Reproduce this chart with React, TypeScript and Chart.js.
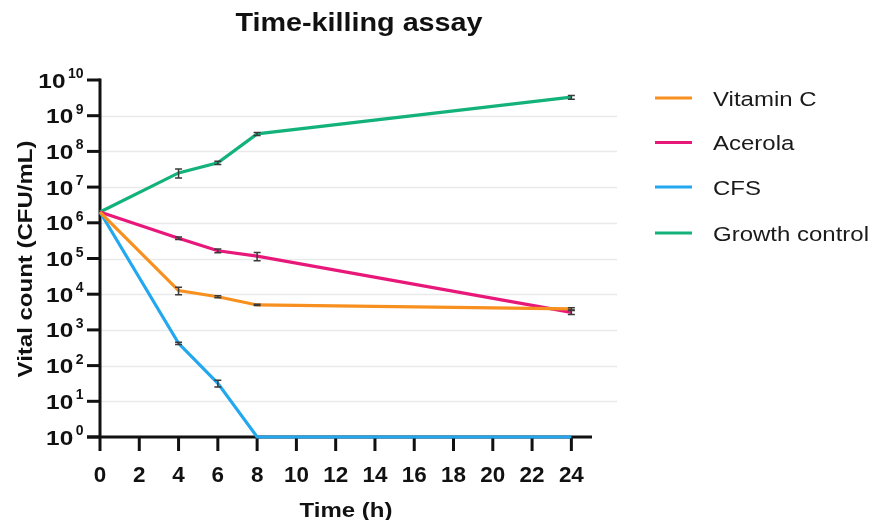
import React, { useEffect, useRef } from "react";
import { Chart, registerables } from "chart.js";

Chart.register(...registerables);

// ---------------- data ----------------
const TIMES = [0, 4, 6, 8, 24];
const SERIES_NAMES = ["Vitamin C", "Acerola", "CFS", "Growth control"];
const SERIES_COLORS = ["#F7901E", "#E8187A", "#23A8EF", "#13B27B"];

const VITAMIN_C = [2e6, 1.26e4, 8.5e3, 5e3, 3.9e3];
const VITAMIN_C_ERR = [0, 3e3, 5e2, 2e2, 3e2];
const ACEROLA = [2e6, 3.7e5, 1.65e5, 1.17e5, 3.1e3];
const ACEROLA_ERR = [0, 3e4, 2e4, 3e4, 4e2];
const CFS = [2e6, 420, 32, 1, 1];
const CFS_ERR = [0, 30, 7, 0, 0];
const GROWTH = [2e6, 2.5e7, 4.8e7, 3.1e8, 3.3e9];
const GROWTH_ERR = [0, 7e6, 5e6, 3e7, 4e8];

const X_TICKS = [0, 2, 4, 6, 8, 10, 12, 14, 16, 18, 20, 22, 24];
const Y_TICKS = [1, 10, 100, 1e3, 1e4, 1e5, 1e6, 1e7, 1e8, 1e9, 1e10];
const Y_EXPONENTS = ["0", "1", "2", "3", "4", "5", "6", "7", "8", "9", "10"];

const TITLE = "Time-killing assay";
const X_TITLE = "Time (h)";
const Y_TITLE = "Vital count (CFU/mL)";

const FONT = '"Liberation Sans", Arial, Helvetica, sans-serif';

function drawText(
  ctx: CanvasRenderingContext2D,
  s: string,
  x: number,
  y: number,
  font: string,
  align: CanvasTextAlign,
  baseline: CanvasTextBaseline,
  sx: number,
  color: string,
  rotate = 0
) {
  ctx.save();
  ctx.translate(x, y);
  if (rotate) ctx.rotate(rotate);
  ctx.scale(sx, 1);
  ctx.font = font;
  ctx.textAlign = align;
  ctx.textBaseline = baseline;
  ctx.fillStyle = color;
  ctx.fillText(s, 0, 0);
  ctx.restore();
}

const ERRORS = [VITAMIN_C_ERR, ACEROLA_ERR, CFS_ERR, GROWTH_ERR];

const decorPlugin = {
  id: "decor",
  beforeDatasetsDraw(chart: any) {
    const ctx: CanvasRenderingContext2D = chart.ctx;
    const xs = chart.scales.x;
    const ys = chart.scales.y;
    const ca = chart.chartArea;
    ctx.save();
    // gridlines
    ctx.strokeStyle = "#e9e9e9";
    ctx.lineWidth = 1.5;
    Y_TICKS.forEach((v, i) => {
      if (i === 0 || i === Y_TICKS.length - 1) return;
      const y = Math.round(ys.getPixelForValue(v)) + 0.5;
      ctx.beginPath();
      ctx.moveTo(ca.left, y);
      ctx.lineTo(ca.right + 26, y);
      ctx.stroke();
    });
    // axes
    ctx.strokeStyle = "#111";
    ctx.lineWidth = 3;
    ctx.lineCap = "butt";
    const x0 = xs.getPixelForValue(0);
    const yb = ys.getPixelForValue(1);
    const yt = ys.getPixelForValue(1e10);
    ctx.beginPath();
    ctx.moveTo(x0, yt - 1.5);
    ctx.lineTo(x0, yb);
    ctx.stroke();
    ctx.beginPath();
    ctx.moveTo(x0 - 13, yb);
    ctx.lineTo(ca.right + 1, yb);
    ctx.stroke();
    // x ticks
    X_TICKS.forEach((v) => {
      const x = xs.getPixelForValue(v);
      ctx.beginPath();
      ctx.moveTo(x, yb);
      ctx.lineTo(x, yb + 14);
      ctx.stroke();
      drawText(ctx, String(v), x, yb + 45, "bold 22px " + FONT, "center", "alphabetic", 1.02, "#111");
    });
    // y ticks
    Y_TICKS.forEach((v, i) => {
      const y = ys.getPixelForValue(v);
      ctx.beginPath();
      ctx.moveTo(x0 - 13, y);
      ctx.lineTo(x0, y);
      ctx.stroke();
      const expRight = x0 - 16.5;
      ctx.font = "bold 14px " + FONT;
      const ew = ctx.measureText(Y_EXPONENTS[i]).width;
      drawText(ctx, Y_EXPONENTS[i], expRight, y - 2, "bold 14px " + FONT, "right", "alphabetic", 1, "#111");
      drawText(ctx, "10", expRight - ew - 2.5, y + 7.5, "bold 21px " + FONT, "right", "alphabetic", 1.16, "#111");
    });
    // titles
    drawText(ctx, TITLE, 351, 23, "bold 25px " + FONT, "center", "alphabetic", 1.15, "#111");
    drawText(ctx, X_TITLE, 338, 508.5, "bold 20px " + FONT, "center", "alphabetic", 1.2, "#111");
    drawText(ctx, Y_TITLE, 18, 251, "bold 20px " + FONT, "center", "middle", 1.2, "#111", -Math.PI / 2);
    // legend
    const rows = [90, 134.5, 179, 225];
    SERIES_NAMES.forEach((name, i) => {
      ctx.strokeStyle = SERIES_COLORS[i];
      ctx.lineWidth = 3;
      ctx.beginPath();
      ctx.moveTo(647, rows[i]);
      ctx.lineTo(684, rows[i]);
      ctx.stroke();
      drawText(ctx, name, 705, rows[i] + 7.5, "20.5px " + FONT, "left", "alphabetic", 1.17, "#1a1a1a");
    });
    ctx.restore();
  },
  afterDatasetsDraw(chart: any) {
    const ctx: CanvasRenderingContext2D = chart.ctx;
    const xs = chart.scales.x;
    const ys = chart.scales.y;
    ctx.save();
    ctx.strokeStyle = "#3a3a3a";
    ctx.lineWidth = 1.5;
    chart.data.datasets.forEach((ds: any, di: number) => {
      const errs = ERRORS[di];
      ds.data.forEach((p: any, i: number) => {
        const e = errs[i];
        if (!e) return;
        const x = xs.getPixelForValue(p.x);
        const yHi = ys.getPixelForValue(p.y + e);
        const yLo = ys.getPixelForValue(Math.max(p.y - e, 1e-3));
        ctx.beginPath();
        ctx.moveTo(x, yHi);
        ctx.lineTo(x, yLo);
        ctx.moveTo(x - 3.5, yHi);
        ctx.lineTo(x + 3.5, yHi);
        ctx.moveTo(x - 3.5, yLo);
        ctx.lineTo(x + 3.5, yLo);
        ctx.stroke();
      });
    });
    ctx.restore();
  },
};

export default function App() {
  const ref = useRef<HTMLCanvasElement | null>(null);
  useEffect(() => {
    if (!ref.current) return;
    const values = [VITAMIN_C, ACEROLA, CFS, GROWTH];
    const chart = new Chart(ref.current, {
      type: "line",
      data: {
        datasets: SERIES_NAMES.map((name, i) => ({
          label: name,
          data: TIMES.map((t, j) => ({ x: t, y: values[i][j] })),
          borderColor: SERIES_COLORS[i],
          backgroundColor: SERIES_COLORS[i],
          borderWidth: 3.2,
          pointRadius: 0,
          tension: 0,
          clip: false as any,
        })),
      },
      options: {
        responsive: false,
        animation: false,
        layout: { padding: { left: 92, top: 72, right: 279, bottom: 83 } },
        plugins: { legend: { display: false }, title: { display: false }, tooltip: { enabled: false } },
        scales: {
          x: { type: "linear", min: 0, max: 25, display: false },
          y: { type: "logarithmic", min: 1, max: 1e10, display: false },
        },
      },
      plugins: [decorPlugin],
    });
    return () => chart.destroy();
  }, []);
  return (
    <div style={{ width: 862, height: 512 }}>
      <canvas ref={ref} width={862} height={512} style={{ display: "block" }} />
    </div>
  );
}
